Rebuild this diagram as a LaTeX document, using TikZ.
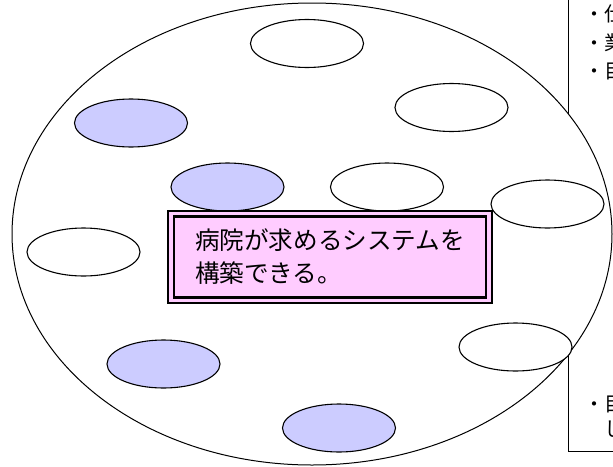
\documentclass[tikz,border=0pt]{standalone}
\usepackage{fontspec}
\setmainfont{Noto Sans CJK JP}
\usepackage{xcolor}
\usetikzlibrary{shapes.geometric,positioning}
\definecolor{doneblue}{RGB}{204,204,255}
\definecolor{goalpink}{RGB}{255,204,255}

\begin{document}
\begin{tikzpicture}[x=1pt,y=-1pt,
  bubble/.style={draw,ellipse,line width=1.1pt,minimum width=113pt,minimum height=48pt,inner sep=0pt},
  done/.style={bubble,fill=doneblue},
  open/.style={bubble,fill=white},
  goalbox/.style={draw=black,fill=goalpink,line width=2.2pt,double=goalpink,double distance=3.4pt,
    minimum width=318pt,minimum height=86.5pt,align=left,inner sep=0pt,font=\fontsize{24.6}{33}\selectfont},
  memo/.style={anchor=west,inner sep=0pt,font=\fontsize{20}{20}\selectfont}]
\clip (0,0) rectangle (613,466);
% memo sheet on the right, half hidden
\draw[fill=white,line width=1pt] (568,-5) rectangle (720,451);
\node[memo] (m1) at (584.5,14) {・仕};
\node[memo] (m2) at (584.5,43) {・業};
\node[memo] (m3) at (584.5,71) {・目};
\node[memo] (m4) at (584.5,404) {・目};
\node[memo] (m5) at (604.5,429) {し};
% big field
\node[ellipse,draw,fill=white,line width=1pt,minimum width=600pt,minimum height=462pt] (field) at (312,234) {};
% small ellipses
\node[open] (e1) at (307,43.5) {}; %top
\node[done] (e2) at (131,123) {};
\node[open] (e3) at (451.5,107.5) {};
\node[done] (e4) at (227.5,187) {};
\node[open] (e5) at (387,187) {};
\node[open] (e6) at (547.5,204) {};
\node[open] (e7) at (83.5,252) {};
\node[open] (e8) at (515.5,347) {};
\node[done] (e9) at (163.5,364) {};
\node[done] (e10) at (339,428) {}; %bottom
% goal
\node[goalbox] (goal) at (330,257) {病院が求めるシステムを\\構築できる。};
\end{tikzpicture}
\end{document}
